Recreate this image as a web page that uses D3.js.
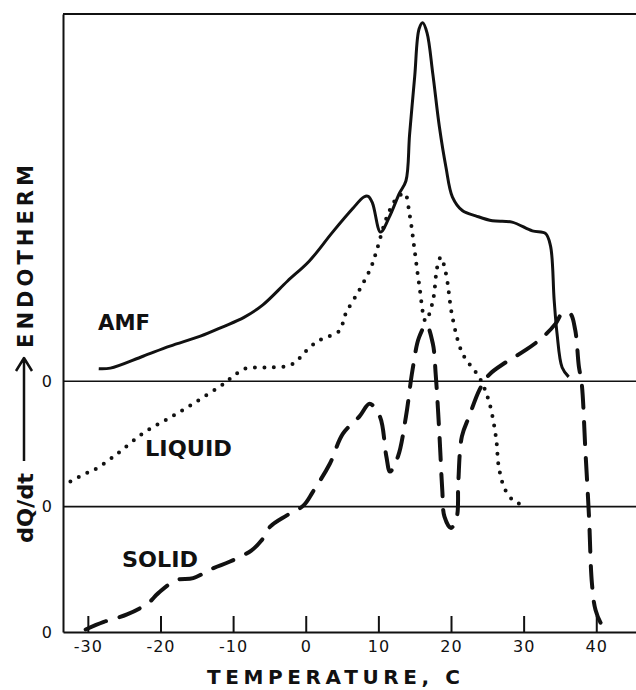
<html>
  <head>
    <meta charset="utf-8" />
    <title>DSC thermograms</title>
    <script src="https://d3js.org/d3.v7.min.js"></script>
    <style>
      body {
        margin: 0;
        background: #fff;
      }
      text {
        font-family: "DejaVu Sans", sans-serif;
        fill: #111;
      }
      .axis path,
      .axis line {
        stroke: #111;
        stroke-width: 2px;
      }
      .axis text {
        font-size: 16px;
        letter-spacing: 1px;
      }
      .baseline {
        stroke: #111;
        stroke-width: 1.6px;
      }
      .label {
        font-size: 21px;
        font-weight: bold;
      }
    </style>
  </head>

  <body>
    <svg width="636" height="690" id="chart"></svg>

    <script>
      // temperature (C), dQ/dt above the curve's own zero line (arbitrary units)
      const amf = [
        [-28.5, 1.0], [-26.9, 1.05], [-22.4, 2.0], [-18.7, 2.8], [-14.5, 3.6],
        [-11.4, 4.35], [-8.5, 5.1], [-5.9, 6.1], [-2.5, 8.0], [0.5, 9.6],
        [3.7, 11.9], [6.5, 13.8], [8.0, 14.7], [8.6, 14.75], [9.2, 14.2],
        [10.3, 11.9], [11.5, 13.1], [12.9, 15.0], [13.8, 16.0], [14.3, 19.7],
        [15.0, 24.3], [15.6, 28.1], [16.1, 28.6], [16.7, 27.8], [17.5, 24.5],
        [18.4, 20.3], [19.3, 17.1], [20.2, 14.7], [21.6, 13.6], [23.4, 13.2],
        [25.7, 12.8], [28.4, 12.7], [31.2, 12.0], [33.0, 11.8], [33.7, 10.8],
        [34.2, 6.5], [34.6, 3.8], [35.3, 1.1], [36.2, 0.35]
      ];
      const liquid = [
        [-32.4, 2.0], [-30.1, 2.7], [-29.2, 2.9], [-26.0, 4.2], [-22.3, 5.9],
        [-18.7, 7.1], [-15.0, 8.4], [-11.3, 9.8], [-10.0, 10.4], [-8.4, 11.0],
        [-5.4, 11.1], [-2.3, 11.25], [-1.3, 11.6], [0.7, 12.8], [2.3, 13.4],
        [4.6, 14.0], [5.5, 15.4], [7.4, 17.3], [9.0, 19.1], [9.9, 20.7],
        [11.1, 23.0], [12.4, 24.5], [13.6, 25.0], [14.3, 23.3], [15.0, 20.4],
        [15.6, 17.8], [16.5, 14.8], [17.5, 16.4], [18.1, 19.1], [18.6, 19.9],
        [19.3, 18.6], [20.2, 15.1], [21.6, 12.2], [23.9, 10.3], [25.2, 8.45],
        [26.2, 5.5], [26.6, 3.1], [27.5, 1.3], [28.9, 0.35], [30.3, 0.15]
      ];
      const solid = [
        [-30.3, 0.2], [-27.8, 0.8], [-24.6, 1.4], [-21.7, 2.3], [-20.3, 3.1],
        [-17.8, 4.15], [-15.5, 4.3], [-12.7, 5.1], [-10.5, 5.6], [-7.5, 6.5],
        [-6.1, 7.3], [-4.9, 8.4], [-2.6, 9.3], [-0.3, 10.1], [1.0, 11.2],
        [3.3, 13.4], [5.1, 15.8], [7.4, 17.2], [8.8, 18.2], [10.2, 17.2],
        [11.1, 14.0], [11.6, 12.8], [12.7, 14.0], [13.8, 17.2], [14.7, 20.9],
        [15.6, 23.5], [16.6, 24.5], [17.5, 23.0], [17.9, 20.5], [18.4, 15.8],
        [18.8, 11.3], [19.1, 9.2], [20.0, 8.3], [20.8, 9.2], [21.0, 11.9],
        [21.5, 15.6], [22.5, 17.2], [23.9, 19.3], [25.2, 20.5], [27.5, 21.5],
        [30.3, 22.5], [32.6, 23.5], [34.4, 24.6], [35.3, 25.4], [36.4, 25.4],
        [37.1, 24.1], [37.6, 21.2], [38.0, 19.8], [38.5, 14.5], [39.0, 9.2],
        [39.4, 3.9], [39.9, 1.75], [40.8, 0.56], [41.7, 0.15]
      ];

      const seriesNames = ["AMF", "LIQUID", "SOLID"];
      const zeroLevels = [20, 10, 0]; // where each curve's own zero sits
      const xTicks = [-30, -20, -10, 0, 10, 20, 30, 40];
      const xTickLabels = ["-30", "-20", "-10", "0", "10", "20", "30", "40"];
      const yTickLabels = ["0", "0", "0"];

      const svg = d3.select("svg#chart");
      const margin = { top: 14, right: 0, bottom: 58, left: 63 };
      const width = +svg.attr("width");
      const height = +svg.attr("height");

      const x = d3
        .scaleLinear()
        .domain([-33.42, 45.47])
        .range([margin.left, width - margin.right]);
      const y = d3
        .scaleLinear()
        .domain([0, 49.3])
        .range([height - margin.bottom, margin.top]);

      // frame: top line + zero lines
      svg
        .append("line")
        .attr("class", "baseline")
        .attr("x1", x.range()[0])
        .attr("x2", x.range()[1])
        .attr("y1", y(49.3))
        .attr("y2", y(49.3))
        .style("stroke-width", "2px");

      svg
        .selectAll("line.zero")
        .data(zeroLevels.filter((d) => d > 0))
        .join("line")
        .attr("class", "baseline zero")
        .attr("x1", x.range()[0])
        .attr("x2", x.range()[1])
        .attr("y1", (d) => y(d))
        .attr("y2", (d) => y(d));

      const xAxis = d3
        .axisBottom(x)
        .tickValues(xTicks)
        .tickFormat((d, i) => xTickLabels[i])
        .tickSizeInner(-16)
        .tickSizeOuter(0)
        .tickPadding(9);
      svg
        .append("g")
        .attr("class", "x axis")
        .attr("transform", `translate(0,${y(0)})`)
        .call(xAxis);

      const yAxis = d3
        .axisLeft(y)
        .tickValues(zeroLevels)
        .tickFormat((d, i) => yTickLabels[i])
        .tickSize(0)
        .tickPadding(10);
      svg
        .append("g")
        .attr("class", "y axis")
        .attr("transform", `translate(${x.range()[0]},0)`)
        .call(yAxis);

      const line = (offset) =>
        d3
          .line()
          .x((d) => x(d[0]))
          .y((d) => y(d[1] + offset))
          .curve(d3.curveCatmullRom.alpha(0.5));

      // AMF - solid
      svg
        .append("path")
        .datum(amf)
        .attr("fill", "none")
        .attr("stroke", "#111")
        .attr("stroke-width", 3)
        .attr("stroke-linejoin", "round")
        .attr("d", line(zeroLevels[0]));

      // liquid - dotted
      svg
        .append("path")
        .datum(liquid)
        .attr("fill", "none")
        .attr("stroke", "#111")
        .attr("stroke-width", 4)
        .attr("stroke-linecap", "round")
        .attr("stroke-dasharray", "0,9.5")
        .attr("d", line(zeroLevels[1]));

      // solid - dashed
      svg
        .append("path")
        .datum(solid)
        .attr("fill", "none")
        .attr("stroke", "#111")
        .attr("stroke-width", 4)
        .attr("stroke-linecap", "round")
        .attr("stroke-dasharray", "22,14")
        .attr("d", line(zeroLevels[2]));

      // curve names
      const nameSpots = [
        { x: 98, y: 330, w: 52 },
        { x: 145, y: 456, w: 87 },
        { x: 122, y: 567, w: 76 }
      ];
      svg
        .selectAll("text.name")
        .data(seriesNames)
        .join("text")
        .attr("class", "label name")
        .attr("x", (d, i) => nameSpots[i].x)
        .attr("y", (d, i) => nameSpots[i].y)
        .attr("textLength", (d, i) => nameSpots[i].w)
        .attr("lengthAdjust", "spacingAndGlyphs")
        .text((d) => d);

      svg
        .append("text")
        .attr("class", "label")
        .attr("x", 207)
        .attr("y", 684)
        .attr("textLength", 253)
        .attr("lengthAdjust", "spacing")
        .style("font-size", "20px")
        .text("TEMPERATURE, C");

      // y label: dQ/dt -> ENDOTHERM, read bottom to top
      const yLab = svg
        .append("g")
        .attr("transform", "translate(33,0) rotate(-90)");
      yLab
        .append("text")
        .attr("class", "label")
        .attr("x", -543)
        .attr("y", 0)
        .attr("textLength", 70)
        .attr("lengthAdjust", "spacingAndGlyphs")
        .text("dQ/dt");
      yLab
        .append("text")
        .attr("class", "label")
        .attr("x", -348)
        .attr("y", 0)
        .attr("textLength", 183)
        .attr("lengthAdjust", "spacing")
        .text("ENDOTHERM");

      svg
        .append("path")
        .attr("d", "M24,461 V358 M16,371 L24,358 L32,371")
        .attr("fill", "none")
        .attr("stroke", "#111")
        .attr("stroke-width", 2.5)
        .attr("stroke-linejoin", "round");
    </script>
  </body>
</html>
